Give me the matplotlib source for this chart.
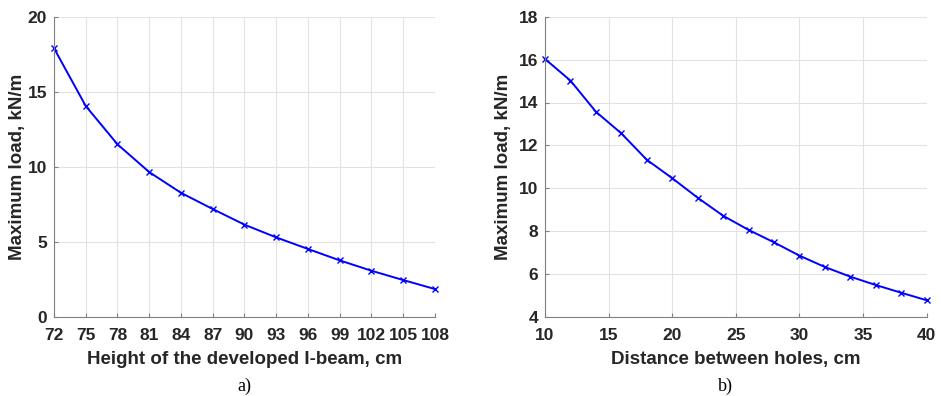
import matplotlib.pyplot as plt

# Data
height_cm = [72, 75, 78, 81, 84, 87, 90, 93, 96, 99, 102, 105, 108]
load_a = [17.9, 14.05, 11.5, 9.65, 8.27, 7.19, 6.15, 5.3, 4.53, 3.77, 3.08, 2.46, 1.86]

dist_cm = [10, 12, 14, 16, 18, 20, 22, 24, 26, 28, 30, 32, 34, 36, 38, 40]
load_b = [16.03, 15.02, 13.57, 12.56, 11.33, 10.47, 9.56, 8.72, 8.06, 7.48,
          6.86, 6.33, 5.88, 5.49, 5.13, 4.78]

plt.rcParams['font.family'] = ['Liberation Sans', 'DejaVu Sans']
txt = '#262626'

fig = plt.figure(figsize=(9.41, 3.96), dpi=100)
ax1 = fig.add_axes([54/941, 79/396, 381/941, 300.3/396])
ax2 = fig.add_axes([545/941, 79/396, 381.7/941, 300.3/396])


def style(ax):
    ax.grid(True, color='#e2e2e2', linewidth=0.8)
    ax.set_axisbelow(True)
    for s in ['top', 'right']:
        ax.spines[s].set_visible(False)
    for s in ['left', 'bottom']:
        ax.spines[s].set_color('#808080')
        ax.spines[s].set_linewidth(0.8)
    ax.tick_params(direction='in', length=3, colors='#808080', labelcolor=txt,
                   labelsize=12.5, width=0.8)
    ax.tick_params(axis='x', pad=8)
    ax.tick_params(axis='y', pad=5)
    for lab in ax.get_xticklabels() + ax.get_yticklabels():
        lab.set_fontweight('bold')


ax1.plot(height_cm, load_a, color='#0000ff', marker='x', markersize=5,
         linewidth=1.4, clip_on=False)
ax1.set_xlim(72, 108)
ax1.set_ylim(0, 20)
ax1.set_xticks(height_cm)
ax1.set_yticks([0, 5, 10, 15, 20])
style(ax1)
ax1.set_xlabel('Height of the developed I-beam, cm', fontsize=13.5,
               fontweight='bold', color=txt, labelpad=6)
ax1.set_ylabel('Maximum load, kN/m', fontsize=13.5, fontweight='bold',
               color=txt, labelpad=1)

ax2.plot(dist_cm, load_b, color='#0000ff', marker='x', markersize=5,
         linewidth=1.4, clip_on=False)
ax2.set_xlim(10, 40)
ax2.set_ylim(4, 18)
ax2.set_xticks([10, 15, 20, 25, 30, 35, 40])
ax2.set_yticks([4, 6, 8, 10, 12, 14, 16, 18])
style(ax2)
ax2.set_xlabel('Distance between holes, cm', fontsize=13.5,
               fontweight='bold', color=txt, labelpad=6)
ax2.set_ylabel('Maximum load, kN/m', fontsize=13.5, fontweight='bold',
               color=txt, labelpad=5)

fig.text(244/941, 1 - 386/396, 'a)', family='Liberation Serif', fontsize=13,
         ha='center', va='center')
fig.text(725/941, 1 - 386/396, 'b)', family='Liberation Serif', fontsize=13,
         ha='center', va='center')

fig.savefig('out.png', dpi=100)
